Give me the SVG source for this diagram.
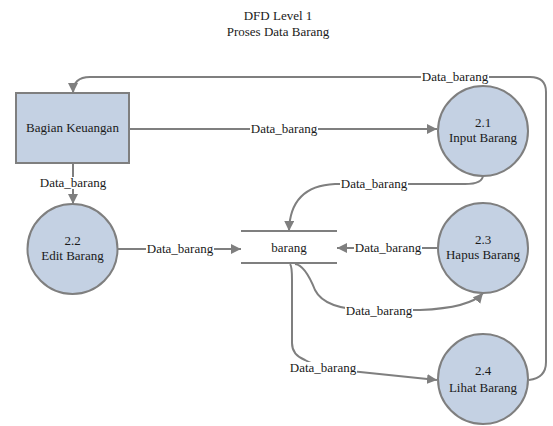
<svg xmlns="http://www.w3.org/2000/svg" width="553" height="426" viewBox="0 0 553 426" font-family="'Liberation Serif', Tinos, 'DejaVu Serif', 'Times New Roman', serif">
  <style>
    text { font-family: "Liberation Serif", Tinos, "DejaVu Serif", "Times New Roman", serif; font-size: 13px; fill: #1a1a1a; text-anchor: middle; }
    .proc { fill: #c4d1e3; stroke: #7f7f7f; stroke-width: 2; }
    .flow { fill: none; stroke: #7f7f7f; stroke-width: 2; }
    .store { stroke: #7f7f7f; stroke-width: 2; }
    .bg { fill: #ffffff; }
  </style>
  <defs>
    <marker id="arr" viewBox="0 0 10 10" refX="10" refY="5" markerWidth="5" markerHeight="5" orient="auto" markerUnits="strokeWidth">
      <path d="M0,0 L10,5 L0,10 z" fill="#7f7f7f"/>
    </marker>
  </defs>
  <rect width="553" height="426" fill="#ffffff"/>

  <g id="title">
    <text x="278" y="20">DFD Level 1</text>
    <text x="278" y="36">Proses Data Barang</text>
  </g>

  <g id="connectors">
    <!-- Bagian Keuangan to 2.1 -->
    <path class="flow" d="M129,129 L437,129" marker-end="url(#arr)"/>
    <!-- 2.4 back to Bagian Keuangan -->
    <path class="flow" d="M529,380 Q546,378 546,362 L546,92 Q546,77 530,77 L90,77 Q73,77 73,93" marker-end="url(#arr)"/>
    <!-- Bagian Keuangan to 2.2 -->
    <path class="flow" d="M73,163 L73,204" marker-end="url(#arr)"/>
    <!-- 2.2 to store -->
    <path class="flow" d="M118,249 L241,249" marker-end="url(#arr)"/>
    <!-- 2.1 to store -->
    <path class="flow" d="M483,175 Q483,184 465,184 L335,184 Q290,186 289,231" marker-end="url(#arr)"/>
    <!-- 2.3 to store -->
    <path class="flow" d="M437,248 L337,248" marker-end="url(#arr)"/>
    <!-- store to 2.3 -->
    <path class="flow" d="M295,264 Q305,265 315,290 Q325,310 370,310 L420,310 Q470,308 483,293" marker-end="url(#arr)"/>
    <!-- store to 2.4 -->
    <path class="flow" d="M290,264 Q292,266 292,280 L292,343 Q292,355 305,360 Q320,369 360,372 L437,380" marker-end="url(#arr)"/>
  </g>

  <g id="flow-labels">
    <rect class="bg" x="421" y="71" width="68" height="12"/>
    <text x="455" y="81">Data_barang</text>
    <rect class="bg" x="250" y="123" width="68" height="12"/>
    <text x="284" y="133">Data_barang</text>
    <rect class="bg" x="39" y="177" width="68" height="12"/>
    <text x="73" y="187">Data_barang</text>
    <rect class="bg" x="340" y="178" width="68" height="12"/>
    <text x="374" y="188">Data_barang</text>
    <rect class="bg" x="146" y="243" width="68" height="12"/>
    <text x="180" y="253">Data_barang</text>
    <rect class="bg" x="354" y="242" width="68" height="12"/>
    <text x="388" y="252">Data_barang</text>
    <rect class="bg" x="345" y="305" width="68" height="12"/>
    <text x="379" y="315">Data_barang</text>
    <rect class="bg" x="289" y="362" width="68" height="12"/>
    <text x="323" y="372">Data_barang</text>
  </g>

  <g id="bagian-keuangan">
    <rect class="proc" x="16" y="93" width="113" height="70"/>
    <text x="72.5" y="132">Bagian Keuangan</text>
  </g>

  <g id="proc-2-1">
    <circle class="proc" cx="483" cy="131" r="45"/>
    <text x="483" y="127">2.1</text>
    <text x="483" y="142">Input Barang</text>
  </g>

  <g id="proc-2-2">
    <circle class="proc" cx="72.5" cy="249" r="45"/>
    <text x="72.5" y="245">2.2</text>
    <text x="72.5" y="260">Edit Barang</text>
  </g>

  <g id="proc-2-3">
    <circle class="proc" cx="483" cy="248" r="45"/>
    <text x="483" y="244">2.3</text>
    <text x="483" y="259">Hapus Barang</text>
  </g>

  <g id="proc-2-4">
    <circle class="proc" cx="483" cy="379" r="45"/>
    <text x="483" y="375">2.4</text>
    <text x="483" y="392">Lihat Barang</text>
  </g>

  <g id="store-barang">
    <line class="store" x1="241" y1="231" x2="337" y2="231"/>
    <line class="store" x1="241" y1="263" x2="337" y2="263"/>
    <text x="289" y="252">barang</text>
  </g>
</svg>
